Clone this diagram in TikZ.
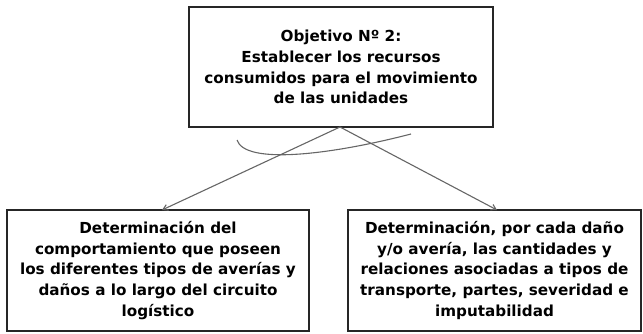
\documentclass[tikz,border=0pt]{standalone}
\usepackage{fontspec}
\setmainfont{DejaVu Sans}
\usetikzlibrary{arrows.meta}
\begin{document}
\begin{tikzpicture}[x=1pt,y=-1pt,
  box/.style={draw=black!85,line width=1.6pt,inner sep=0pt,align=center,
    font=\fontsize{15.2}{20.8}\selectfont\bfseries},
  conn/.style={draw=black!60,line width=1.1pt,-{Straight Barb[length=5pt,width=6pt]}}]
\useasboundingbox (0,0) rectangle (643,334);
\node[box,minimum width=304pt,minimum height=120pt] (top) at (341,67)
  {Objetivo Nº 2:\\Establecer los recursos\\consumidos para el movimiento\\de las unidades};
\node[box,minimum width=302pt,minimum height=121pt] (left) at (158,270.5)
  {Determinación del\\comportamiento que poseen\\los diferentes tipos de averías y\\daños a lo largo del circuito\\logístico};
\node[box,minimum width=293pt,minimum height=121pt] (right) at (494.5,270.5)
  {Determinación, por cada daño\\y/o avería, las cantidades y\\relaciones asociadas a tipos de\\transporte, partes, severidad e\\imputabilidad};
\coordinate (apex) at (340,127);
\coordinate (lt) at (162,210);
\coordinate (rt) at (497,210);
\draw[conn] (apex) -- (lt);
\draw[conn] (apex) -- (rt);
\coordinate (cs) at (237,140);
\coordinate (ce) at (411,134);
\draw[draw=black!60,line width=1.1pt] (cs) .. controls (245,165) and (330,155) .. (ce);
\end{tikzpicture}
\end{document}
